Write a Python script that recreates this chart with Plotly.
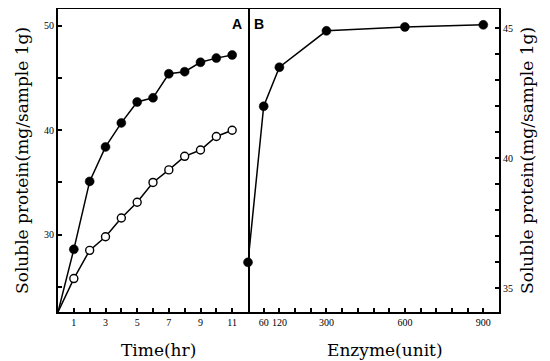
import plotly.graph_objects as go

# Panel A: time course
time_hr = [0, 1, 2, 3, 4, 5, 6, 7, 8, 9, 10, 11]
filled_a = [22.6, 28.6, 35.1, 38.4, 40.7, 42.7, 43.1, 45.4, 45.6, 46.5, 46.9, 47.2]
open_a = [22.6, 25.8, 28.5, 29.8, 31.6, 33.1, 35.0, 36.2, 37.5, 38.1, 39.4, 40.0]

# Panel B: enzyme dose
enzyme_unit = [0, 60, 120, 300, 600, 900]
filled_b = [36.0, 42.0, 43.5, 44.9, 45.05, 45.13]

xa_ticks = list(range(1, 12))
xa_text = [str(v) if v % 2 == 1 else "" for v in xa_ticks]
ya_ticks = [25, 30, 35, 40, 45, 50]
ya_text = ["", "30", "", "40", "", "50"]
xb_ticks = list(range(60, 901, 60))
xb_text = [str(v) if v in (60, 120, 300, 600, 900) else "" for v in xb_ticks]
yb_ticks = list(range(35, 46))
yb_text = [str(v) if v in (35, 40, 45) else "" for v in yb_ticks]

# page offset (body margin) compensation
OFF = 8
W, H = 550 - OFF, 361 - OFF
ml, mr, mt, mb = 58 - OFF, 51, 9 - OFF, 49
pw = W - ml - mr
ph = H - mt - mb
split = (248 - OFF - ml) / pw


def px2paper(px, py):
    return (px - OFF - ml) / pw, 1 - (py - OFF - mt) / ph


serif = "DejaVu Serif"

fig = go.Figure()
msz = [0] + [9] * (len(time_hr) - 1)
osz = [0] + [8] * (len(time_hr) - 1)
fig.add_trace(go.Scatter(x=time_hr, y=open_a, mode="lines+markers",
                         line=dict(color="black", width=1.5),
                         marker=dict(size=osz, color="white", opacity=1,
                                     line=dict(color="black", width=1.4)),
                         xaxis="x", yaxis="y", cliponaxis=False, showlegend=False))
fig.add_trace(go.Scatter(x=time_hr, y=filled_a, mode="lines+markers",
                         line=dict(color="black", width=1.5),
                         marker=dict(size=msz, color="black", opacity=1,
                                     line=dict(color="black", width=0.5)),
                         xaxis="x", yaxis="y", cliponaxis=False, showlegend=False))
fig.add_trace(go.Scatter(x=enzyme_unit, y=filled_b, mode="lines+markers",
                         line=dict(color="black", width=1.5),
                         marker=dict(size=9, color="black", opacity=1,
                                     line=dict(color="black", width=0.5)),
                         xaxis="x2", yaxis="y2", cliponaxis=False, showlegend=False))

tickfont = dict(family="Liberation Serif", size=10, color="black")
common = dict(showgrid=False, zeroline=False, showline=True, linecolor="black",
              linewidth=2, ticks="inside", ticklen=4, tickwidth=1.5,
              tickcolor="black", tickfont=tickfont, tickangle=0, automargin=False)

fig.update_layout(
    width=W, height=H,
    margin=dict(l=ml, r=mr, t=mt, b=mb),
    paper_bgcolor="white", plot_bgcolor="white",
    xaxis=dict(domain=[0, split], range=[0, 12], tickmode="array",
               tickvals=xa_ticks, ticktext=xa_text, anchor="y", mirror=True, **common),
    yaxis=dict(range=[22.6, 51.6], tickmode="array", tickvals=ya_ticks,
               ticktext=ya_text, anchor="x", side="left", mirror=True, **common),
    xaxis2=dict(domain=[split, 1], range=[0, 960], tickmode="array",
                tickvals=xb_ticks, ticktext=xb_text, anchor="y2", mirror=True, **common),
    yaxis2=dict(range=[34.09, 45.74], tickmode="array", tickvals=yb_ticks,
                ticktext=yb_text, anchor="x2", side="right", mirror=False, **common),
)

title_font = dict(family=serif, size=17, color="black")
for text, x, y in (("Time(hr)", 158, 350), ("Enzyme(unit)", 385, 350)):
    ax, ay = px2paper(x, y)
    fig.add_annotation(text=text, x=ax, y=ay, xref="paper", yref="paper",
                       showarrow=False, font=title_font,
                       xanchor="center", yanchor="middle")
for xpos in (22, 527):
    ax, ay = px2paper(xpos, 161)
    fig.add_annotation(text="Soluble protein(mg/sample 1g)", x=ax, y=ay,
                       xref="paper", yref="paper", showarrow=False, font=title_font,
                       textangle=-90, xanchor="center", yanchor="middle")
for text, x, y in (("<b>A</b>", 237, 24), ("<b>B</b>", 259, 24)):
    ax, ay = px2paper(x, y)
    fig.add_annotation(text=text, x=ax, y=ay, xref="paper", yref="paper",
                       showarrow=False,
                       font=dict(family="Liberation Sans", size=14, color="black"),
                       xanchor="center", yanchor="middle")

fig.write_html("out.html")
